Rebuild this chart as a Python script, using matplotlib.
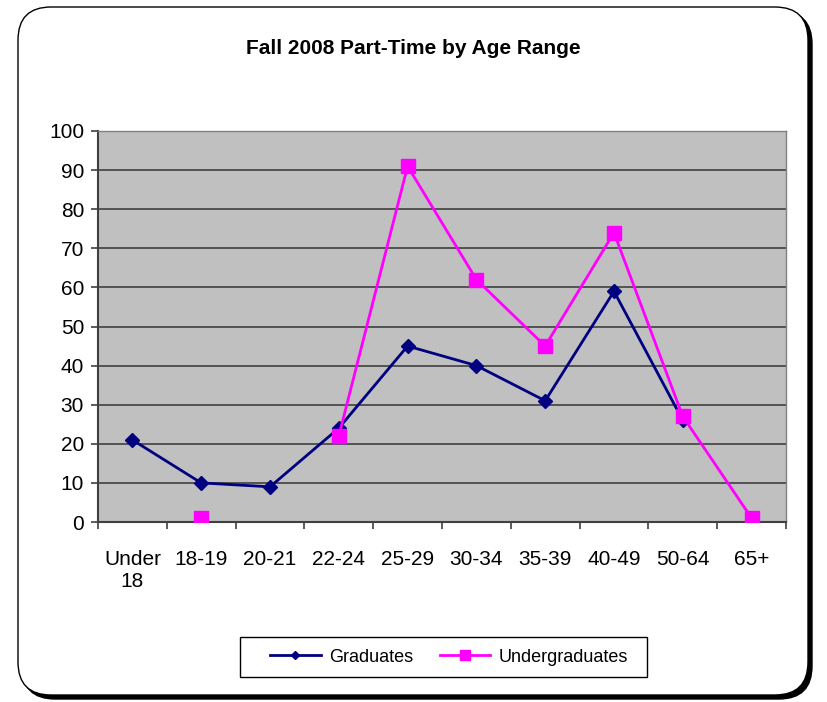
import numpy as np
import matplotlib
matplotlib.use('Agg')
import matplotlib.pyplot as plt
from matplotlib.patches import FancyBboxPatch, Rectangle

plt.rcParams['font.family'] = ['Liberation Sans', 'DejaVu Sans']

# data
age_ranges = ['Under\n18', '18-19', '20-21', '22-24', '25-29', '30-34',
              '35-39', '40-49', '50-64', '65+']
graduates = [21, 10, 9, 24, 45, 40, 31, 59, 26, np.nan]
undergraduates = [np.nan, 1, np.nan, 22, 91, 62, 45, 74, 27, 1]

fig = plt.figure(figsize=(8.27, 7.02), dpi=100)

# rounded frame with shadow
W, H = 827, 702
shadow = FancyBboxPatch((22 / W, 3 / H), 790 / W, 688 / H,
                        boxstyle="round,pad=0,rounding_size=0.04",
                        transform=fig.transFigure, facecolor='black',
                        edgecolor='black', zorder=0, mutation_aspect=W / H)
frame = FancyBboxPatch((18 / W, 7 / H), 790 / W, 688 / H,
                       boxstyle="round,pad=0,rounding_size=0.04",
                       transform=fig.transFigure, facecolor='white',
                       edgecolor='black', linewidth=1.0, zorder=1,
                       mutation_aspect=W / H)
fig.patches.extend([shadow, frame])

ax = fig.add_axes([98 / W, 1 - 522 / H, 688 / W, 391 / H])
ax.set_zorder(2)
ax.set_facecolor('#C0C0C0')

x = np.arange(len(age_ranges))
ax.plot(x, graduates, color='#000080', lw=2, marker='D', ms=7,
        label='Graduates', zorder=3)
ax.plot(x, undergraduates, color='#FF00FF', lw=2, marker='s', ms=10,
        label='Undergraduates', zorder=4)

ax.set_xlim(-0.5, len(age_ranges) - 0.5)
ax.set_ylim(0, 100)
ax.set_yticks(range(0, 101, 10))
ax.yaxis.grid(True, color='#404040', lw=1.2)
ax.set_axisbelow(True)

ax.set_xticks(x)
ax.set_xticklabels(age_ranges, fontsize=15)
ax.set_xticks(np.arange(-0.5, len(age_ranges)), minor=True)
ax.tick_params(axis='x', which='major', length=0, pad=20)
ax.tick_params(axis='x', which='minor', length=5, color='#404040', width=1.2)
ax.tick_params(axis='y', length=5, color='#404040', width=1.2,
               labelsize=15, pad=5)

for side in ['left', 'bottom']:
    ax.spines[side].set_color('#404040')
    ax.spines[side].set_linewidth(1.5)
for side in ['top', 'right']:
    ax.spines[side].set_color('#808080')
    ax.spines[side].set_linewidth(1.0)

fig.text(0.5, 1 - 48 / H, 'Fall 2008 Part-Time by Age Range',
         ha='center', va='center', fontsize=15, fontweight='bold', zorder=5)

# legend box drawn separately so it can be wider than the entries
box = Rectangle((240 / W, 1 - 677 / H), 407 / W, 40 / H,
                transform=fig.transFigure, facecolor='white',
                edgecolor='black', linewidth=1.0, zorder=4)
fig.patches.append(box)
leg = fig.legend(loc='center', bbox_to_anchor=(449 / W, 1 - 657 / H),
                 ncol=2, fontsize=13, frameon=False,
                 handlelength=2.8, columnspacing=1.5,
                 borderpad=0, handletextpad=0.45, borderaxespad=0,
                 markerscale=0.65)
leg.set_zorder(5)

fig.savefig('out.png', dpi=100)
